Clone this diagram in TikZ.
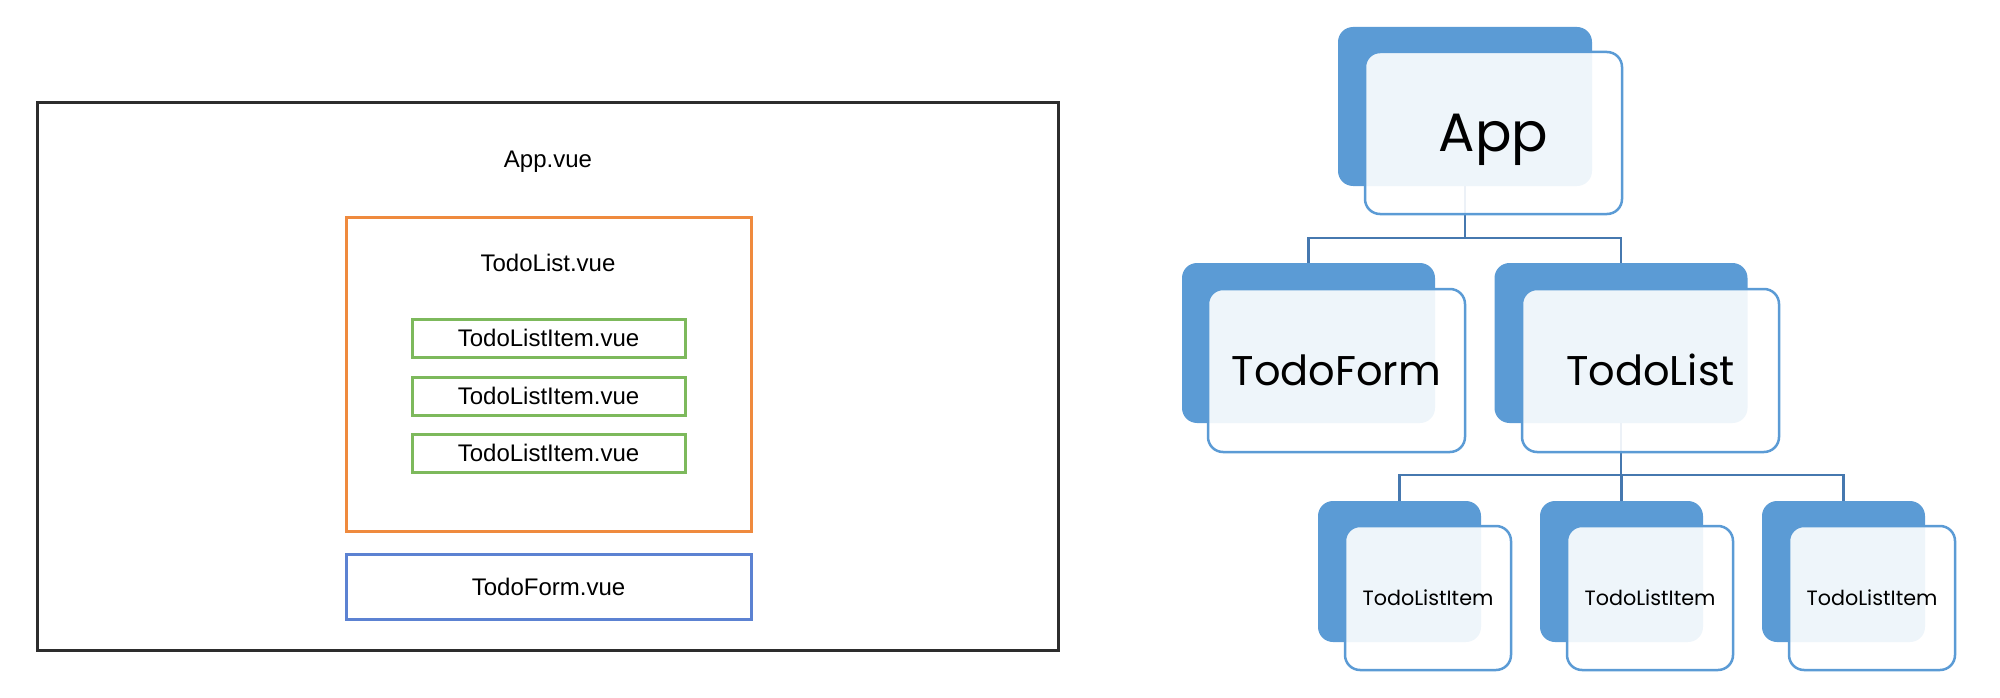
\documentclass[tikz,border=0pt]{standalone}
\usepackage{fontspec}
\setmainfont{Liberation Sans}
\newfontfamily\pop{Poppins}
\definecolor{bxblue}{RGB}{91,155,213}
\definecolor{cnblue}{RGB}{70,120,175}
\definecolor{orng}{RGB}{239,138,62}
\definecolor{grn}{RGB}{125,185,92}
\definecolor{blu}{RGB}{92,130,210}
\definecolor{frame}{RGB}{45,45,45}
\tikzset{
  backbox/.style={rectangle, rounded corners=15pt, fill=bxblue, draw=none, inner sep=0pt},
  frontbox/.style={rectangle, rounded corners=15pt, draw=bxblue, line width=2.5pt, fill=white, fill opacity=0.9, text opacity=1, inner sep=0pt, text depth=0pt},
  conn/.style={draw=cnblue, line width=2.2pt},
  flatbox/.style={rectangle, draw, line width=3pt, inner sep=0pt, font=\fontsize{24}{28}\selectfont},
  plain/.style={inner sep=0pt, font=\fontsize{24}{28}\selectfont}
}
\begin{document}
\begin{tikzpicture}[x=1pt,y=-1pt]
\useasboundingbox (0,0) rectangle (2000,698);
% ---------- left ----------
\node[flatbox, draw=frame, minimum width=1021pt, minimum height=547pt] (outer) at (547.5,376.5) {};
\node[plain] (appvue) at (548,162) {App.vue};
\node[flatbox, draw=orng, minimum width=405pt, minimum height=314pt] (listbox) at (548.5,374) {};
\node[plain] (listvue) at (548,263) {TodoList.vue};
\node[flatbox, draw=grn, minimum width=273pt, minimum height=38pt] (it1) at (548.5,338) {TodoListItem.vue};
\node[flatbox, draw=grn, minimum width=273pt, minimum height=38pt] (it2) at (548.5,396) {TodoListItem.vue};
\node[flatbox, draw=grn, minimum width=273pt, minimum height=38pt] (it3) at (548.5,453) {TodoListItem.vue};
\node[flatbox, draw=blu, minimum width=405pt, minimum height=65pt] (formbox) at (548.5,586.5) {TodoForm.vue};
% ---------- right ----------
\coordinate (bus1) at (0,238);
\coordinate (bus2) at (0,475);
% back boxes
\node[backbox, minimum width=254pt, minimum height=159pt] (appB) at (1465,106.5) {};
\node[backbox, minimum width=253pt, minimum height=160pt] (formB) at (1308.5,343) {};
\node[backbox, minimum width=253pt, minimum height=160pt] (listB) at (1621,343) {};
\node[backbox, minimum width=163pt, minimum height=141pt] (iB1) at (1399.5,571.5) {};
\node[backbox, minimum width=163pt, minimum height=141pt] (iB2) at (1621.5,571.5) {};
\node[backbox, minimum width=163pt, minimum height=141pt] (iB3) at (1843.5,571.5) {};
% connectors
\draw[conn] (appB.south) -- (appB.south |- bus1);
\draw[conn] (formB.north) |- (listB.north |- bus1) -- (listB.north);
\draw[conn] (listB.south) -- (listB.south |- bus2);
\draw[conn] (iB1.north) |- (iB3.north |- bus2) -- (iB3.north);
\draw[conn] (iB2.north) -- (iB2.north |- bus2);
% front boxes
\node[frontbox, minimum width=257pt, minimum height=162pt, text height=38pt, font=\pop\fontsize{54}{60}\selectfont] (appF) at (1493.5,133) {App};
\node[frontbox, minimum width=257pt, minimum height=163pt, text height=29pt, font=\pop\fontsize{41.5}{48}\selectfont] (formF) at (1336.5,370.5) {TodoForm};
\node[frontbox, minimum width=257pt, minimum height=163pt, text height=29pt, font=\pop\fontsize{41.5}{48}\selectfont] (listF) at (1650.5,370.5) {TodoList};
\node[frontbox, minimum width=166pt, minimum height=144pt, text height=15.4pt, font=\pop\fontsize{20.7}{25}\selectfont] (iF1) at (1428,598) {TodoListItem};
\node[frontbox, minimum width=166pt, minimum height=144pt, text height=15.4pt, font=\pop\fontsize{20.7}{25}\selectfont] (iF2) at (1650,598) {TodoListItem};
\node[frontbox, minimum width=166pt, minimum height=144pt, text height=15.4pt, font=\pop\fontsize{20.7}{25}\selectfont] (iF3) at (1872,598) {TodoListItem};
\end{tikzpicture}
\end{document}
